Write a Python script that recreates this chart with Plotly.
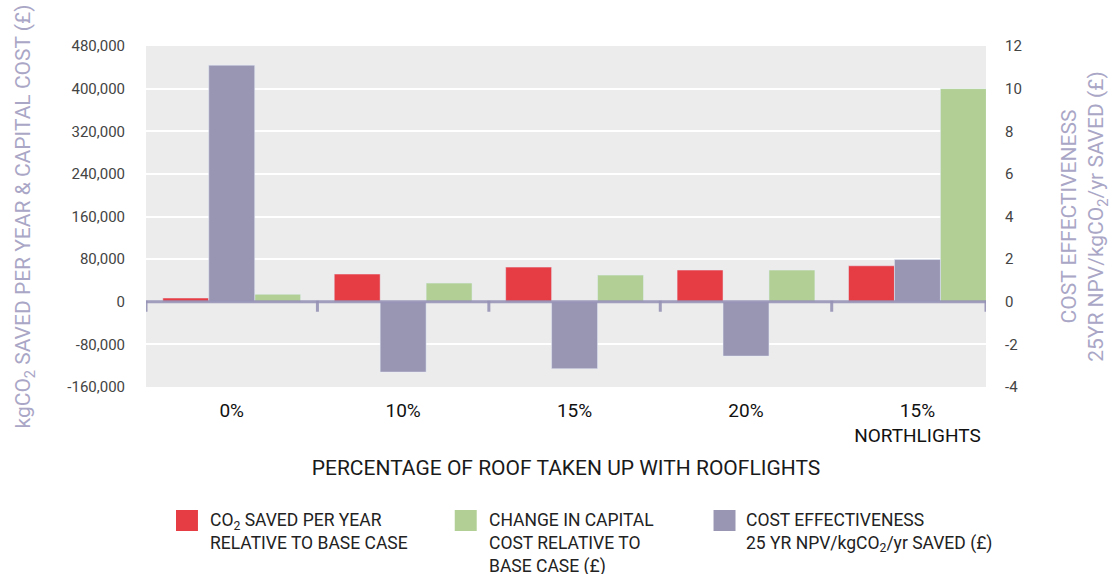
import plotly.graph_objects as go

categories = ["0%", "10%", "15%", "20%", "15%<br>NORTHLIGHTS"]
co2_saved = [7000, 52000, 65000, 59500, 67500]
capital_cost = [14000, 35000, 50000, 59500, 400000]
cost_effectiveness = [11.1, -3.3, -3.14, -2.55, 1.98]

left_ticks = [-160000, -80000, 0, 80000, 160000, 240000, 320000, 400000, 480000]
left_tick_labels = ["-160,000", "-80,000", "0", "80,000", "160,000", "240,000", "320,000",
                    "400,000", "480,000"]
right_ticks = [-4, -2, 0, 2, 4, 6, 8, 10, 12]
right_tick_labels = ["-4", "-2", "0", "2", "4", "6", "8", "10", "12"]

RED = "#e63c44"
GREEN = "#b2d095"
PURPLE = "#9996b4"
TITLE_C = "#a9a6c6"
FONT = "Roboto"

W = 0.268
fig = go.Figure()
fig.add_trace(go.Bar(x=categories, y=co2_saved, name="CO2 saved", marker_color=RED,
                     width=W, offset=-1.5 * W, yaxis="y"))
fig.add_trace(go.Bar(x=categories, y=cost_effectiveness, name="Cost effectiveness", marker_color=PURPLE,
                     width=W, offset=-0.5 * W, yaxis="y2"))
fig.add_trace(go.Bar(x=categories, y=capital_cost, name="Capital cost", marker_color=GREEN,
                     width=W, offset=0.5 * W, yaxis="y"))

shapes = []
line_c = "rgba(150,146,182,0.9)"
shapes.append(dict(type="line", xref="x", yref="y", x0=-0.5, x1=4.4, y0=0, y1=0,
                   line=dict(color=line_c, width=3), layer="above"))
for b in [-0.5, 0.5, 1.5, 2.5, 3.5, 4.4]:
    shapes.append(dict(type="line", xref="x", yref="y", x0=b, x1=b, ysizemode="pixel", yanchor=0,
                       y0=1, y1=-10, line=dict(color=line_c, width=3), layer="above"))

# custom legend
def px_x(p):
    return (p - 146) / 840.7

def px_y(p):
    return (387 - p) / 341.0

legend_items = [
    (176, RED, 208, "CO<sub>2</sub> SAVED PER YEAR<br>RELATIVE TO BASE CASE"),
    (455, GREEN, 487, "CHANGE IN CAPITAL<br>COST RELATIVE TO<br>BASE CASE (£)"),
    (714, PURPLE, 744, "COST EFFECTIVENESS<br>25 YR NPV/kgCO<sub>2</sub>/yr SAVED (£)"),
]
annotations = []
for sx, col, tx, txt in legend_items:
    shapes.append(dict(type="rect", xref="paper", yref="paper", x0=px_x(sx), x1=px_x(sx + 22),
                       y0=px_y(531), y1=px_y(510), fillcolor=col, line=dict(width=0)))
    annotations.append(dict(xref="paper", yref="paper", x=px_x(tx), y=px_y(508), xanchor="left",
                            yanchor="top", align="left", showarrow=False, text=txt,
                            font=dict(family=FONT, size=17.5, color="#222")))

fig.update_layout(
    width=1120, height=574,
    margin=dict(l=146, r=134, t=46, b=187),
    paper_bgcolor="white", plot_bgcolor="#ececec",
    showlegend=False,
    barmode="overlay",
    font=dict(family=FONT, color="#333"),
    xaxis=dict(range=[-0.5, 4.4], showgrid=False, zeroline=False, showline=False, ticks="",
               tickfont=dict(size=19, color="#111"), ticklabelstandoff=10,
               title=dict(text="PERCENTAGE OF ROOF TAKEN UP WITH ROOFLIGHTS",
                          font=dict(size=21, color="#1a1a1a"), standoff=14)),
    yaxis=dict(range=[-160000, 480000], tickvals=left_ticks, ticktext=left_tick_labels, showgrid=True,
               gridcolor="white", gridwidth=1.5, zeroline=False, showline=False, ticks="",
               tickfont=dict(size=15, color="#444"), ticklabelstandoff=20,
               title=dict(text="kgCO<sub>2</sub> SAVED PER YEAR & CAPITAL COST (£)",
                          font=dict(size=21, color=TITLE_C), standoff=30)),
    yaxis2=dict(range=[-4, 12], tickvals=right_ticks, ticktext=right_tick_labels, overlaying="y",
                side="right", showgrid=False, zeroline=False, showline=False, ticks="",
                tickfont=dict(size=15, color="#444"), ticklabelstandoff=18,
                title=dict(text="COST EFFECTIVENESS<br>25YR NPV/kgCO<sub>2</sub>/yr SAVED (£)",
                           font=dict(size=21, color=TITLE_C), standoff=40)),
    shapes=shapes,
    annotations=annotations,
)

fig.write_html("out.html", config={"displayModeBar": False},
               post_script="document.body.style.margin='0';document.body.style.padding='0';")
